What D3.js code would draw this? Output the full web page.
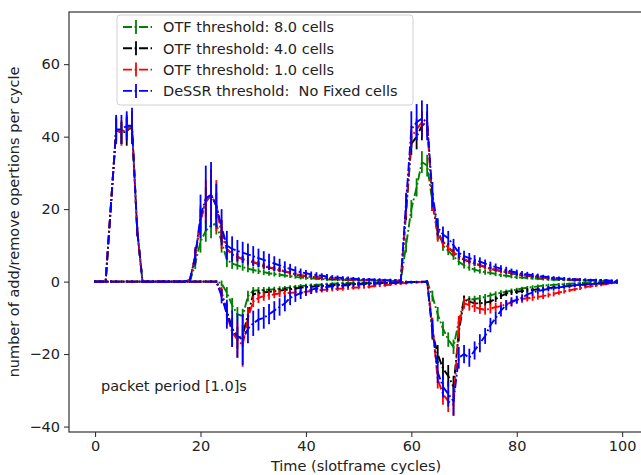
<!DOCTYPE html>
<html>
<head>
<meta charset="utf-8">
<script src="https://cdn.jsdelivr.net/npm/d3@7"></script>
<style>
  body { margin: 0; background: #fff; }
  svg { font-family: "DejaVu Sans", sans-serif; }
</style>
</head>
<body>
<svg id="chart" width="641" height="475"></svg>
<script>
// slotframe cycles 0..99
const cycles = d3.range(0, 100);

const seriesNames = ['OTF threshold: 8.0 cells', 'OTF threshold: 4.0 cells',
  'OTF threshold: 1.0 cells', 'DeSSR threshold:  No Fixed cells'];
const xTicks = [0, 20, 40, 60, 80, 100];
const yTicks = [-40, -20, 0, 20, 40, 60];

// add operations (positive) per cycle
const greenAdd = [
  0, 0, 0, 21, 42, 41, 43, 42, 14, 0,
  0, 0, 0, 0, 0, 0, 0, 0, 0, 5,
  11, 14, 15.5, 16, 11, 6, 5, 4.5, 4, 3.6,
  3.2, 2.9, 2.6, 2.3, 2.1, 1.9, 1.7, 1.5, 1.3, 1.1,
  1, 0.9, 0.8, 0.7, 0.6, 0.6, 0.5, 0.5, 0.4, 0.4,
  0.4, 0.3, 0.3, 0.3, 0.2, 0.2, 0.2, 0.2, 0.2, 10,
  20, 26, 33, 32, 22, 15, 10, 8.5, 7, 5.5,
  4.5, 3.8, 3.3, 2.9, 2.6, 2.4, 2.1, 1.8, 1.6, 1.4,
  1.2, 1.1, 1, 0.9, 0.8, 0.7, 0.6, 0.5, 0.5, 0.4,
  0.4, 0.3, 0.3, 0.3, 0.2, 0.2, 0.2, 0.1, 0.1, 0.1];
const blackAdd = [
  0, 0, 0, 21, 42, 41, 41.5, 43, 14, 0,
  0, 0, 0, 0, 0, 0, 0, 0, 0.5, 7,
  17, 22, 24, 21, 14, 9, 7.5, 6.8, 6.2, 5.8,
  5.4, 4.8, 4.3, 3.9, 3.5, 3.2, 2.8, 2.4, 2, 1.7,
  1.5, 1.3, 1.2, 1, 0.9, 0.8, 0.7, 0.6, 0.6, 0.5,
  0.5, 0.4, 0.4, 0.3, 0.3, 0.3, 0.2, 0.2, 0.3, 19,
  38, 40, 43, 44, 22, 13, 11, 9.5, 8, 7,
  6, 5.5, 5, 4.5, 4, 3.5, 3.2, 2.9, 2.6, 2.3,
  2, 1.8, 1.6, 1.4, 1.3, 1.1, 1, 0.9, 0.8, 0.7,
  0.6, 0.5, 0.5, 0.4, 0.4, 0.3, 0.3, 0.2, 0.2, 0.2];
const redAdd = [
  0, 0, 0, 21, 42, 41, 42, 43, 14, 0,
  0, 0, 0, 0, 0, 0, 0, 0, 0.5, 7,
  17, 22, 24, 21, 13, 9, 7.5, 6.8, 6.2, 5.8,
  5.4, 4.9, 4.4, 4, 3.6, 3.3, 2.9, 2.5, 2.1, 1.8,
  1.6, 1.4, 1.2, 1.1, 1, 0.9, 0.8, 0.7, 0.6, 0.5,
  0.5, 0.4, 0.4, 0.4, 0.3, 0.3, 0.3, 0.2, 0.3, 20,
  40, 42, 44, 43, 22, 13, 11, 9.5, 8, 7,
  6.2, 5.6, 5.1, 4.6, 4.1, 3.6, 3.3, 3, 2.7, 2.4,
  2.1, 1.9, 1.7, 1.5, 1.3, 1.2, 1, 0.9, 0.8, 0.7,
  0.6, 0.6, 0.5, 0.4, 0.4, 0.3, 0.3, 0.3, 0.2, 0.2];
const blueAdd = [
  0, 0, 0, 21, 42, 42, 43, 43, 14, 0,
  0, 0, 0, 0, 0, 0, 0, 0, 0.5, 7,
  18, 23, 24, 21, 15, 10, 9, 8.5, 8, 7.5,
  7, 6.5, 6, 5.5, 5, 4.5, 4, 3.5, 3, 2.6,
  2.3, 2, 1.8, 1.6, 1.4, 1.2, 1.1, 1, 0.9, 0.8,
  0.7, 0.6, 0.6, 0.5, 0.5, 0.4, 0.4, 0.3, 0.3, 22,
  42, 44, 45, 44, 24, 15, 13, 12, 10, 8,
  7, 6.5, 6, 5.5, 5, 4.5, 4, 3.6, 3.2, 2.8,
  2.5, 2.2, 2, 1.8, 1.6, 1.4, 1.2, 1, 0.9, 0.8,
  0.7, 0.6, 0.5, 0.5, 0.4, 0.4, 0.3, 0.3, 0.2, 0.2];

// std of add operations
const greenAddErr = [
  0.3, 0.3, 0.3, 1, 3, 3, 3, 3, 1, 0.3,
  0.3, 0.3, 0.3, 0.3, 0.3, 0.3, 0.3, 0.3, 0.4, 1.5,
  3, 3, 3.5, 3, 3, 2, 1.5, 1.2, 1, 1,
  0.9, 0.8, 0.8, 0.7, 0.7, 0.6, 0.6, 0.5, 0.5, 0.5,
  0.5, 0.4, 0.4, 0.4, 0.4, 0.4, 0.4, 0.4, 0.4, 0.4,
  0.4, 0.4, 0.4, 0.4, 0.4, 0.4, 0.4, 0.4, 0.4, 2,
  2.5, 2.5, 3, 3, 2.5, 2, 1.5, 1.2, 1, 1,
  0.9, 0.8, 0.8, 0.7, 0.7, 0.6, 0.6, 0.5, 0.5, 0.5,
  0.5, 0.4, 0.4, 0.4, 0.4, 0.4, 0.4, 0.4, 0.3, 0.3,
  0.3, 0.3, 0.3, 0.3, 0.3, 0.3, 0.3, 0.3, 0.3, 0.3];
const blackAddErr = [
  0.3, 0.3, 0.3, 1, 3, 3, 4, 3, 1, 0.3,
  0.3, 0.3, 0.3, 0.3, 0.3, 0.3, 0.3, 0.3, 0.4, 2,
  3, 4, 4, 3.5, 3, 1.5, 1.2, 1, 0.9, 0.8,
  0.8, 0.7, 0.7, 0.6, 0.6, 0.5, 0.5, 0.5, 0.5, 0.4,
  0.4, 0.4, 0.4, 0.4, 0.4, 0.4, 0.4, 0.4, 0.4, 0.4,
  0.4, 0.4, 0.4, 0.4, 0.4, 0.4, 0.4, 0.4, 0.4, 2,
  3, 3.5, 4, 3, 2.5, 1.5, 1.2, 1, 1, 0.9,
  0.8, 0.8, 0.7, 0.7, 0.6, 0.6, 0.5, 0.5, 0.5, 0.5,
  0.4, 0.4, 0.4, 0.4, 0.4, 0.4, 0.4, 0.4, 0.4, 0.4,
  0.3, 0.3, 0.3, 0.3, 0.3, 0.3, 0.3, 0.3, 0.3, 0.3];
const redAddErr = [
  0.3, 0.3, 0.3, 1, 3.5, 3.5, 3, 4, 1, 0.3,
  0.3, 0.3, 0.3, 0.3, 0.3, 0.3, 0.3, 0.3, 0.4, 2,
  4, 6, 7, 7, 4, 2, 1.5, 1.2, 1, 1,
  0.9, 0.9, 0.8, 0.8, 0.7, 0.7, 0.6, 0.6, 0.5, 0.5,
  0.5, 0.5, 0.5, 0.4, 0.4, 0.4, 0.4, 0.4, 0.4, 0.4,
  0.4, 0.4, 0.4, 0.4, 0.4, 0.4, 0.4, 0.4, 0.4, 2,
  3, 3, 3, 3, 2.5, 2, 1.5, 1.2, 1, 1,
  0.9, 0.9, 0.8, 0.8, 0.7, 0.7, 0.6, 0.6, 0.5, 0.5,
  0.5, 0.5, 0.4, 0.4, 0.4, 0.4, 0.4, 0.4, 0.4, 0.4,
  0.3, 0.3, 0.3, 0.3, 0.3, 0.3, 0.3, 0.3, 0.3, 0.3];
const blueAddErr = [
  0.3, 0.3, 0.3, 1, 4, 4, 4, 5, 1.5, 0.3,
  0.3, 0.3, 0.3, 0.3, 0.3, 0.3, 0.3, 0.3, 0.5, 2.5,
  6, 9, 9, 6, 5, 4, 3.5, 3, 3, 3,
  2.8, 2.6, 2.4, 2.2, 2, 1.8, 1.6, 1.4, 1.2, 1,
  0.9, 0.8, 0.8, 0.7, 0.7, 0.6, 0.6, 0.5, 0.5, 0.5,
  0.5, 0.4, 0.4, 0.4, 0.4, 0.4, 0.4, 0.4, 0.4, 2.5,
  5, 5, 5, 5, 3.5, 2.5, 2.2, 2, 1.8, 1.6,
  1.5, 1.4, 1.3, 1.2, 1.1, 1, 1, 0.9, 0.9, 0.8,
  0.8, 0.7, 0.7, 0.6, 0.6, 0.5, 0.5, 0.5, 0.5, 0.4,
  0.4, 0.4, 0.4, 0.4, 0.4, 0.4, 0.4, 0.4, 0.4, 0.4];

// remove operations (negative) per cycle
const greenRemove = [
  0, 0, 0, 0, 0, 0, 0, 0, 0, 0,
  0, 0, 0, 0, 0, 0, 0, 0, 0, 0,
  0, 0, 0, 0, -0.5, -3, -6.5, -9, -9.5, -4,
  -2.5, -2.4, -2.3, -2.2, -2.1, -2, -1.8, -1.6, -1.4, -1.2,
  -1.1, -1, -0.9, -0.8, -0.7, -0.6, -0.5, -0.4, -0.4, -0.4,
  -0.4, -0.4, -0.4, -0.3, -0.3, -0.3, -0.2, -0.2, -0.1, -0.1,
  -0.1, -0.1, -0.1, 0, -4, -9, -13, -16, -18, -11,
  -5, -5, -4.8, -4.6, -4.2, -3.8, -3.4, -3.1, -2.8, -2.5,
  -2.2, -1.9, -1.7, -1.5, -1.3, -1.1, -1, -0.9, -0.8, -0.7,
  -0.6, -0.5, -0.4, -0.4, -0.3, -0.3, -0.2, -0.2, -0.1, -0.1];
const blackRemove = [
  0, 0, 0, 0, 0, 0, 0, 0, 0, 0,
  0, 0, 0, 0, 0, 0, 0, 0, 0, 0,
  0, 0, 0, 0, -3, -8, -13, -15.5, -15, -9,
  -3.5, -3.2, -3, -2.8, -2.7, -2.5, -2.3, -2.1, -1.9, -1.7,
  -1.5, -1.4, -1.3, -1.2, -1.1, -1, -0.9, -0.8, -0.8, -0.7,
  -0.6, -0.6, -0.5, -0.5, -0.4, -0.4, -0.3, -0.3, -0.2, -0.2,
  -0.1, -0.1, -0.1, 0, -14, -20, -24, -26, -29, -14,
  -5, -5.5, -6, -6, -5.8, -5.5, -4.8, -4, -3.3, -3,
  -2.8, -2.6, -2.4, -2.3, -2.1, -2, -1.8, -1.6, -1.5, -1.3,
  -1.2, -1, -0.9, -0.8, -0.7, -0.6, -0.5, -0.4, -0.3, -0.2];
const redRemove = [
  0, 0, 0, 0, 0, 0, 0, 0, 0, 0,
  0, 0, 0, 0, 0, 0, 0, 0, 0, 0,
  0, 0, 0, 0, -3, -9, -14, -16, -17.5, -10,
  -5.5, -4.5, -4, -3.8, -3.5, -3.3, -3.2, -3.1, -3, -2.9,
  -2.8, -2.6, -2.4, -2.3, -2.2, -2.1, -2, -1.9, -1.8, -1.7,
  -1.6, -1.5, -1.4, -1.2, -1.1, -1, -0.8, -0.6, -0.5, -0.4,
  -0.3, -0.2, -0.1, 0, -12, -27, -31, -33, -34, -12,
  -6, -6.5, -7, -7.5, -7.8, -7.5, -7, -6.8, -6.2, -5.8,
  -5, -4.8, -4.6, -4.4, -4.2, -4, -3.7, -3.4, -3, -2.7,
  -2.4, -2.1, -1.8, -1.5, -1.3, -1.1, -0.9, -0.7, -0.4, -0.2];
const blueRemove = [
  0, 0, 0, 0, 0, 0, 0, 0, 0, 0,
  0, 0, 0, 0, 0, 0, 0, 0, 0, 0,
  0, 0, 0, 0, -4, -9, -13, -15, -16, -13,
  -11.5, -10.5, -10, -9, -8, -7, -6, -4.5, -3.8, -3.2,
  -2.6, -2.2, -1.9, -1.7, -1.5, -1.3, -1.2, -1.1, -1, -0.9,
  -0.8, -0.7, -0.6, -0.6, -0.5, -0.4, -0.3, -0.3, -0.2, -0.2,
  -0.1, -0.1, -0.1, 0, -13, -25, -29, -31, -33, -21,
  -20, -21, -19, -17, -15, -12, -10, -8, -6.5, -5.5,
  -5, -4.5, -3.5, -3, -2.6, -2.3, -2, -1.8, -1.6, -1.4,
  -1.2, -1, -0.9, -0.8, -0.7, -0.6, -0.5, -0.4, -0.3, -0.2];

// std of remove operations
const greenRemoveErr = [
  0.3, 0.3, 0.3, 0.3, 0.3, 0.3, 0.3, 0.3, 0.3, 0.3,
  0.3, 0.3, 0.3, 0.3, 0.3, 0.3, 0.3, 0.3, 0.3, 0.3,
  0.3, 0.3, 0.3, 0.3, 0.8, 1.5, 2, 2, 2, 1.5,
  1, 0.9, 0.8, 0.8, 0.7, 0.7, 0.6, 0.6, 0.5, 0.5,
  0.5, 0.5, 0.4, 0.4, 0.4, 0.4, 0.4, 0.4, 0.4, 0.4,
  0.4, 0.4, 0.4, 0.4, 0.4, 0.4, 0.4, 0.4, 0.4, 0.4,
  0.3, 0.3, 0.3, 0.3, 1.5, 2, 2, 2, 2, 1.5,
  1, 1, 0.9, 0.9, 0.8, 0.8, 0.7, 0.7, 0.6, 0.6,
  0.5, 0.5, 0.5, 0.5, 0.5, 0.4, 0.4, 0.4, 0.4, 0.4,
  0.3, 0.3, 0.3, 0.3, 0.3, 0.3, 0.3, 0.3, 0.3, 0.3];
const blackRemoveErr = [
  0.3, 0.3, 0.3, 0.3, 0.3, 0.3, 0.3, 0.3, 0.3, 0.3,
  0.3, 0.3, 0.3, 0.3, 0.3, 0.3, 0.3, 0.3, 0.3, 0.3,
  0.3, 0.3, 0.3, 0.3, 1, 2, 3, 3, 3, 2,
  1, 0.9, 0.8, 0.8, 0.7, 0.7, 0.6, 0.6, 0.5, 0.5,
  0.5, 0.5, 0.4, 0.4, 0.4, 0.4, 0.4, 0.4, 0.4, 0.4,
  0.4, 0.4, 0.4, 0.4, 0.4, 0.4, 0.4, 0.4, 0.4, 0.4,
  0.3, 0.3, 0.3, 0.3, 2, 2.5, 3, 3, 3, 2.5,
  1.2, 1, 1, 1, 0.9, 0.9, 0.8, 0.8, 0.7, 0.7,
  0.6, 0.6, 0.6, 0.5, 0.5, 0.5, 0.5, 0.4, 0.4, 0.4,
  0.4, 0.4, 0.3, 0.3, 0.3, 0.3, 0.3, 0.3, 0.3, 0.3];
const redRemoveErr = [
  0.3, 0.3, 0.3, 0.3, 0.3, 0.3, 0.3, 0.3, 0.3, 0.3,
  0.3, 0.3, 0.3, 0.3, 0.3, 0.3, 0.3, 0.3, 0.3, 0.3,
  0.3, 0.3, 0.3, 0.3, 1.5, 3, 4, 5, 6, 3,
  1.5, 1.4, 1.3, 1.2, 1.1, 1, 1, 0.9, 0.9, 0.8,
  0.8, 0.8, 0.7, 0.7, 0.7, 0.6, 0.6, 0.6, 0.5, 0.5,
  0.5, 0.5, 0.5, 0.4, 0.4, 0.4, 0.4, 0.4, 0.4, 0.4,
  0.3, 0.3, 0.3, 0.3, 2, 2.5, 3, 3, 3, 2.5,
  1.5, 1.5, 1.4, 1.4, 1.3, 1.3, 1.2, 1.2, 1.1, 1.1,
  1, 1, 0.9, 0.9, 0.8, 0.8, 0.7, 0.7, 0.6, 0.6,
  0.5, 0.5, 0.5, 0.4, 0.4, 0.4, 0.4, 0.3, 0.3, 0.3];
const blueRemoveErr = [
  0.3, 0.3, 0.3, 0.3, 0.3, 0.3, 0.3, 0.3, 0.3, 0.3,
  0.3, 0.3, 0.3, 0.3, 0.3, 0.3, 0.3, 0.3, 0.3, 0.3,
  0.3, 0.3, 0.3, 0.3, 2, 4, 5, 6, 7, 4,
  3.5, 3, 3, 2.8, 2.6, 2.4, 2.2, 2, 1.8, 1.6,
  1.4, 1.2, 1.1, 1, 0.9, 0.8, 0.8, 0.7, 0.7, 0.6,
  0.6, 0.5, 0.5, 0.5, 0.4, 0.4, 0.4, 0.4, 0.4, 0.4,
  0.3, 0.3, 0.3, 0.3, 2.5, 3, 3, 3.5, 4, 3,
  2.5, 2.5, 2.5, 2.5, 2.2, 2, 1.8, 1.6, 1.4, 1.2,
  1.1, 1, 0.9, 0.9, 0.8, 0.8, 0.7, 0.7, 0.6, 0.6,
  0.5, 0.5, 0.5, 0.5, 0.4, 0.4, 0.4, 0.4, 0.4, 0.4];

const series = [
  { name: seriesNames[0], color: 'green', add: greenAdd, addErr: greenAddErr, rem: greenRemove, remErr: greenRemoveErr },
  { name: seriesNames[1], color: 'black', add: blackAdd, addErr: blackAddErr, rem: blackRemove, remErr: blackRemoveErr },
  { name: seriesNames[2], color: 'red', add: redAdd, addErr: redAddErr, rem: redRemove, remErr: redRemoveErr },
  { name: seriesNames[3], color: 'blue', add: blueAdd, addErr: blueAddErr, rem: blueRemove, remErr: blueRemoveErr }
];

const fontSize = 14.5;
const dash = '9,2.6,1.8,2.6';
const plot = { left: 69, right: 643, top: 12, bottom: 432 };

const svg = d3.select('#chart');

const x = d3.scaleLinear().domain([-4.95, 103.95]).range([plot.left, plot.right]);
const y = d3.scaleLinear().domain([-41.5, 74.4]).range([plot.bottom, plot.top]);

svg.append('clipPath').attr('id', 'clip')
  .append('rect')
  .attr('x', plot.left).attr('y', plot.top)
  .attr('width', plot.right - plot.left).attr('height', plot.bottom - plot.top);

const g = svg.append('g').attr('clip-path', 'url(#clip)');

const line = d3.line()
  .x((d, i) => x(cycles[i]))
  .y(d => y(d));

series.forEach(s => {
  [[s.add, s.addErr], [s.rem, s.remErr]].forEach(([vals, errs]) => {
    g.append('g').selectAll('line').data(vals).join('line')
      .attr('x1', (d, i) => x(cycles[i]))
      .attr('x2', (d, i) => x(cycles[i]))
      .attr('y1', (d, i) => y(d - errs[i]))
      .attr('y2', (d, i) => y(d + errs[i]))
      .attr('stroke', s.color)
      .attr('stroke-width', 1.8);

    g.append('path').datum(vals)
      .attr('d', line)
      .attr('fill', 'none')
      .attr('stroke', s.color)
      .attr('stroke-width', 1.9)
      .attr('stroke-dasharray', dash);
  });
});

// axes
const xAxis = d3.axisBottom(x).tickValues(xTicks).tickSize(5).tickSizeOuter(0).tickPadding(4);
const yAxis = d3.axisLeft(y).tickValues(yTicks).tickSize(5).tickSizeOuter(0).tickPadding(4);

const gx = svg.append('g').attr('transform', `translate(0,${plot.bottom})`).call(xAxis);
const gy = svg.append('g').attr('transform', `translate(${plot.left},0)`).call(yAxis);

[gx, gy].forEach(a => {
  a.selectAll('text').attr('font-size', fontSize).attr('font-family', '"DejaVu Sans", sans-serif').attr('fill', '#222');
  a.selectAll('line').attr('stroke', '#222').attr('stroke-width', 1);
  a.select('.domain').remove();
});

// frame
svg.append('rect')
  .attr('x', plot.left).attr('y', plot.top)
  .attr('width', plot.right - plot.left).attr('height', plot.bottom - plot.top)
  .attr('fill', 'none').attr('stroke', '#333').attr('stroke-width', 1.2);

// labels
svg.append('text')
  .attr('x', (plot.left + plot.right) / 2).attr('y', 471)
  .attr('text-anchor', 'middle').attr('font-size', fontSize).attr('fill', '#222')
  .text('Time (slotframe cycles)');

svg.append('text')
  .attr('transform', `translate(19,${(plot.top + plot.bottom) / 2}) rotate(-90)`)
  .attr('text-anchor', 'middle').attr('font-size', fontSize).attr('fill', '#222')
  .text('number of add/remove opertions per cycle');

svg.append('text')
  .attr('x', 101).attr('y', 391)
  .attr('font-size', fontSize).attr('fill', '#222')
  .text('packet period [1.0]s');

// legend
const legend = svg.append('g');
legend.append('rect')
  .attr('x', 117).attr('y', 15).attr('width', 296).attr('height', 90).attr('rx', 3)
  .attr('fill', 'white').attr('fill-opacity', 0.85)
  .attr('stroke', '#d0d0d0').attr('stroke-width', 1);

series.forEach((s, i) => {
  const cy = 27 + i * 21.3;
  const row = legend.append('g');
  row.append('line')
    .attr('x1', 123).attr('x2', 152).attr('y1', cy).attr('y2', cy)
    .attr('stroke', s.color).attr('stroke-width', 1.9).attr('stroke-dasharray', dash);
  row.append('line')
    .attr('x1', 136).attr('x2', 136).attr('y1', cy - 7).attr('y2', cy + 7)
    .attr('stroke', s.color).attr('stroke-width', 1.8);
  row.append('text')
    .attr('x', 163).attr('y', cy + 5.3)
    .attr('font-size', fontSize).attr('fill', '#222')
    .attr('xml:space', 'preserve').style('white-space', 'pre')
    .text(s.name);
});
</script>
</body>
</html>
